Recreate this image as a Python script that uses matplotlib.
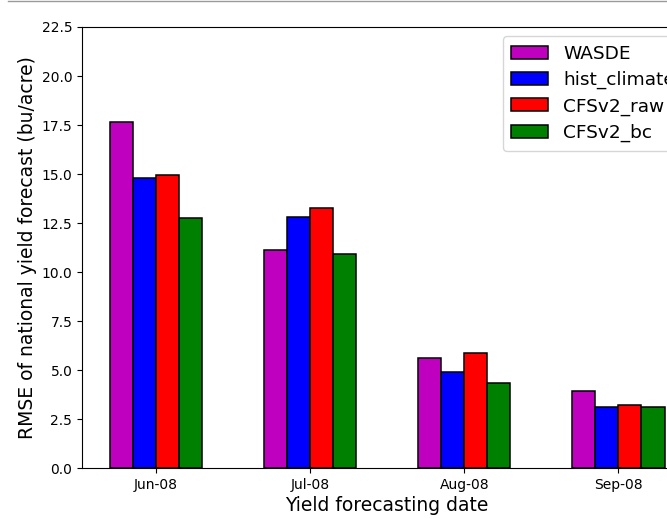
import numpy as np
import matplotlib.pyplot as plt
from matplotlib.lines import Line2D

dates = ['Jun-08', 'Jul-08', 'Aug-08', 'Sep-08']
series = ['WASDE', 'hist_climate', 'CFSv2_raw', 'CFSv2_bc']
wasde = [17.65, 11.15, 5.61, 3.91]
hist_climate = [14.78, 12.82, 4.88, 3.12]
cfsv2_raw = [14.93, 13.25, 5.87, 3.23]
cfsv2_bc = [12.77, 10.90, 4.35, 3.12]
colors = ['m', 'b', 'r', 'g']

fig = plt.figure(figsize=(6.67, 5.19), dpi=100)
# axes run past the right edge, as in the cropped original
ax = fig.add_axes([0.123, 0.098, 0.915, 0.850])

x = np.arange(len(dates))
w = 0.15
vals = [wasde, hist_climate, cfsv2_raw, cfsv2_bc]
for i, (v, name, c) in enumerate(zip(vals, series, colors)):
    ax.bar(x + (i - 1.5) * w, v, w, color=c, edgecolor='k', linewidth=1.1, label=name)

ax.set_ylim(0, 22.5)
ax.set_yticks(np.arange(0, 22.6, 2.5))
ax.set_xticks(x)
ax.set_xticklabels(dates)
ax.tick_params(labelsize=10)
ax.set_xlabel('Yield forecasting date', fontsize=13.5, labelpad=3)
ax.set_ylabel('RMSE of national yield forecast (bu/acre)', fontsize=13.5, labelpad=3)
ax.legend(loc='upper right', fontsize=13.3, borderpad=0.45, labelspacing=0.45)

fig.add_artist(Line2D([0.012, 1.0], [0.998, 0.998], color='#999999', linewidth=1))
fig.savefig('out.png', dpi=100)
